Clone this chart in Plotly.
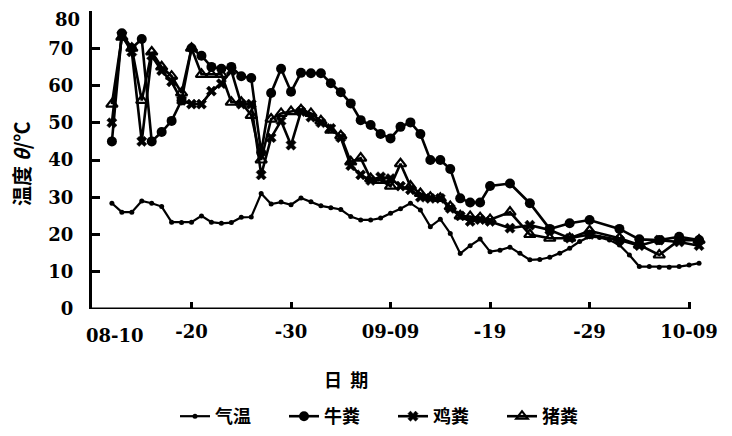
import plotly.graph_objects as go

# x positions are day offsets from 08-10
tick_vals = [10, 20, 30, 40, 50, 60]
tick_text = ["-20", "-30", "09-09", "-19", "-29", "10-09"]
first_tick_label = "08-10"
y_ticks = [0, 10, 20, 30, 40, 50, 60, 70, 80]

air_days = list(range(2, 62))
air_temp = [28.4, 26.0, 26.0, 29.0, 28.4, 27.5, 23.3, 23.2, 23.3, 25.0,
            23.3, 23.0, 23.2, 24.6, 24.7, 31.0, 28.2, 28.7, 28.0, 29.8,
            28.8, 27.7, 27.2, 26.7, 24.8, 23.9, 23.9, 24.4, 25.7, 26.9,
            28.4, 26.6, 22.1, 24.1, 20.3, 14.9, 17.0, 18.8, 15.4, 15.8,
            16.6, 15.0, 13.2, 13.3, 13.9, 15.0, 16.3, 18.1, 19.4, 19.2,
            18.5, 17.2, 14.5, 11.4, 11.4, 11.2, 11.2, 11.4, 11.8, 12.3]

cow_days = [2, 3, 4, 5, 6, 7, 8, 9, 10, 11, 12, 13, 14, 15, 16, 17, 18, 19, 20,
            21, 22, 23, 24, 25, 26, 27, 28, 29, 30, 31, 32, 33, 34, 35, 36, 37,
            38, 39, 40, 42, 44, 46, 48, 50, 53, 55, 57, 59, 61]
cow_temp = [45, 74, 70, 72.5, 45, 47.5, 50.5, 56, 70, 68, 65, 64.5, 65, 62.5,
            62, 42, 58, 64.5, 58.3, 63.4, 63.3, 63.3, 60.6, 58.2, 55.2, 50.7,
            49.4, 47, 45.8, 48.9, 50.1, 47, 40, 40, 37.6, 29.7, 28.6, 28.6, 33,
            33.7, 28.4, 21.5, 23, 23.9, 21.5, 18.7, 18.5, 19.4, 18.5]

chicken_days = [2, 3, 4, 5, 6, 7, 8, 9, 10, 11, 12, 13, 14, 15, 16, 17, 18, 19,
                20, 21, 22, 23, 24, 25, 26, 27, 28, 29, 30, 31, 32, 33, 34, 35,
                36, 37, 38, 39, 40, 42, 44, 46, 48, 50, 53, 55, 57, 59, 61]
chicken_temp = [50, 73.5, 69, 45, 68, 64, 61, 56, 55, 55, 58.5, 60.5, 64, 55,
                55, 36, 46, 50.5, 44, 53, 51.5, 50, 48.5, 46, 38.5, 36, 34.5,
                35.5, 35, 33, 32, 30, 29.7, 29.7, 27, 25, 23.5, 24, 23.5, 21.7,
                22.5, 21.2, 19, 20, 18.5, 17, 18.5, 18, 17]

pig_days = [2, 3, 4, 5, 6, 7, 8, 9, 10, 11, 12, 13, 14, 15, 16, 17, 18, 19, 20,
            21, 22, 23, 24, 25, 26, 27, 28, 29, 30, 31, 32, 33, 34, 35, 36, 37,
            38, 39, 40, 42, 44, 46, 48, 50, 53, 55, 57, 59, 61]
pig_temp = [55, 73, 70, 56, 69, 65, 62.5, 58, 70, 63, 63, 63, 55.5, 55.5, 52,
            40, 51, 52.5, 53, 53.5, 52.5, 50.5, 48, 46.5, 39.5, 40.5, 35, 34.5,
            33, 39, 33, 31, 30, 29.7, 27.5, 25, 24.8, 24.5, 24, 26, 20, 19, 19,
            21, 19, 17.2, 14.5, 18.5, 18.5]

series_names = ["气温", "牛粪", "鸡粪", "猪粪"]

CJK = "Noto Sans CJK SC"
NUM = "DejaVu Serif"

# page has an 8px body margin: figure is drawn at (8, 8)
OFF = 8
W, H = 732 - OFF, 436 - OFF
PW, PH = 617, 298
L, T = 92 - OFF, 11 - OFF
R, B = W - L - PW, H - T - PH


def px_to_paper(px, py):
    """Convert page pixel position to paper coordinates."""
    return ((px - OFF) - L) / PW, ((H - B) - (py - OFF)) / PH


fig = go.Figure()
fig.add_trace(go.Scatter(x=air_days, y=air_temp, name=series_names[0], mode="lines+markers",
                         line=dict(color="black", width=2.2),
                         marker=dict(symbol="circle", size=5, color="black")))
fig.add_trace(go.Scatter(x=cow_days, y=cow_temp, name=series_names[1], mode="lines+markers",
                         line=dict(color="black", width=2.6),
                         marker=dict(symbol="circle", size=10, color="black")))
fig.add_trace(go.Scatter(x=chicken_days, y=chicken_temp, name=series_names[2], mode="lines+markers",
                         line=dict(color="black", width=2.6),
                         marker=dict(symbol="x", size=9, color="black",
                                     line=dict(color="black", width=0.5))))
fig.add_trace(go.Scatter(x=pig_days, y=pig_temp, name=series_names[3], mode="lines+markers",
                         line=dict(color="black", width=2.6),
                         marker=dict(symbol="triangle-up-open", size=10, color="black",
                                     line=dict(color="black", width=2.2))))

lx, ly = px_to_paper(175, 398)
fig.update_layout(
    template="none",
    width=W, height=H,
    paper_bgcolor="white", plot_bgcolor="white",
    margin=dict(l=L, r=R, t=T, b=B, autoexpand=False),
    showlegend=True,
    legend=dict(orientation="h", x=lx, xanchor="left", y=ly, yanchor="top",
                font=dict(family=CJK, size=18, color="black", weight="bold"),
                entrywidth=64, entrywidthmode="pixels", itemwidth=30,
                bgcolor="rgba(0,0,0,0)", itemclick=False),
    font=dict(family=NUM, color="black"),
)

fig.update_xaxes(range=[0, 62], automargin=False, showgrid=False, zeroline=False, showline=False,
                 tickmode="array", tickvals=tick_vals, ticktext=tick_text,
                 ticks="inside", ticklen=7, tickwidth=2.5, tickcolor="black",
                 ticklabelstandoff=10,
                 tickfont=dict(family=NUM, size=18, color="black", weight="bold"))

# top label (80) is drawn separately a bit lower so it is not cut at the page edge
y_ticktext = [str(v) for v in y_ticks[:-1]] + [""]
fig.update_yaxes(range=[0, 80], automargin=False, showgrid=False, zeroline=False, showline=True,
                 linecolor="black", linewidth=3,
                 tickmode="array", tickvals=y_ticks, ticktext=y_ticktext,
                 ticks="inside", ticklen=8, tickwidth=2.5, tickcolor="black",
                 ticklabelstandoff=12,
                 tickfont=dict(family=NUM, size=18, color="black", weight="bold"))
fig.add_annotation(x=0, y=y_ticks[-1], xref="paper", yref="y", text=str(y_ticks[-1]),
                   showarrow=False, xanchor="right", yanchor="middle", xshift=-10, yshift=-8,
                   font=dict(family=NUM, size=18, color="black", weight="bold"))

# x-axis line ending at the last tick (10-09)
fig.add_shape(type="line", xref="x", yref="y", x0=0, x1=tick_vals[-1], y0=0, y1=0,
              line=dict(color="black", width=3))

# first tick label (08-10), drawn at the origin
fig.add_annotation(x=0, y=0, xref="x", yref="y", text=first_tick_label, showarrow=False,
                   xanchor="left", yanchor="top", xshift=-8, yshift=-14,
                   font=dict(family=NUM, size=18, color="black", weight="bold"))

# axis titles
ax, ay = px_to_paper(346, 379)
fig.add_annotation(x=ax, y=ay, xref="paper", yref="paper", text="日  期",
                   xanchor="center", yanchor="middle",
                   showarrow=False, font=dict(family=CJK, size=18, color="black", weight="bold"))
bx, by = px_to_paper(21, 164)
fig.add_annotation(x=bx, y=by, xref="paper", yref="paper", text="温度 <i>θ</i>/℃",
                   xanchor="center", yanchor="middle",
                   textangle=-90, showarrow=False,
                   font=dict(family=CJK, size=20, color="black", weight="bold"))

fig.write_html("out.html")
